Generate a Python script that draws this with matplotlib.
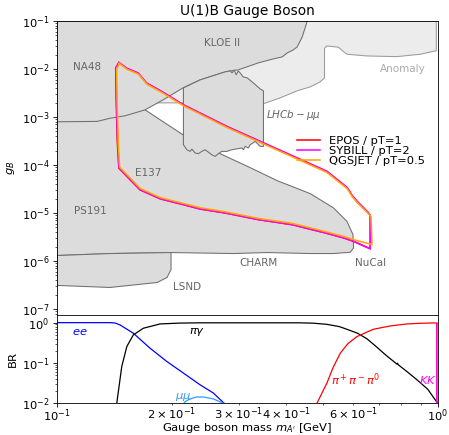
import matplotlib
matplotlib.use('Agg')
import matplotlib.pyplot as plt

plt.rcParams['font.size'] = 11

# ---- excluded regions: mass [GeV], coupling g_B ----
anomaly_m = [0.1, 0.1, 0.2141, 0.3474, 0.3855, 0.4269, 0.4622, 0.4907, 0.5036, 0.5036,
             0.5110, 0.5482, 0.5649, 0.5768, 0.6509, 0.7804, 0.8985, 0.9838, 0.9897, 0.9897]
anomaly_g = [0.1, 1.97e-3, 1.97e-3, 1.88e-3, 2.51e-3, 3.51e-3, 4.25e-3, 5.40e-3, 6.53e-3, 0.027,
             0.0302, 0.0284, 0.0230, 0.0203, 0.0187, 0.0181, 0.0203, 0.0238, 0.0238, 0.1]

e137_m = [0.1, 0.1555, 0.1703, 0.1900, 0.2141, 0.2374, 0.2681, 0.3214, 0.3784, 0.4622,
          0.5316, 0.5768, 0.5981, 0.6004, 0.5883, 0.5316, 0.4622, 0.3561, 0.2899, 0.1992,
          0.1377, 0.1]
e137_g = [1.79e-3, 1.55e-3, 1.41e-3, 7.94e-4, 4.26e-4, 2.77e-4, 1.72e-4, 8.8e-5, 4.72e-5, 2.53e-5,
          1.28e-5, 6.71e-6, 3.56e-6, 1.88e-6, 1.52e-6, 1.43e-6, 1.43e-6, 1.50e-6, 1.43e-6, 1.50e-6,
          1.43e-6, 1.30e-6]

lsnd_m = [0.1, 0.1377, 0.1992, 0.1992, 0.1945, 0.1832, 0.1377, 0.1]
lsnd_g = [1.30e-6, 1.43e-6, 1.50e-6, 6.65e-7, 4.54e-7, 3.57e-7, 2.81e-7, 3.10e-7]

kloe_m = [0.1, 0.4538, 0.4401, 0.4269, 0.4168, 0.4020, 0.3902, 0.3692, 0.3375, 0.2988,
          0.2847, 0.2763, 0.2374, 0.2141, 0.1900, 0.1703, 0.1509, 0.1377, 0.1274, 0.1]
kloe_g = [0.1, 0.1, 0.0465, 0.0288, 0.0250, 0.0216, 0.0179, 0.0162, 0.0134, 9.57e-3,
          9.12e-3, 8.71e-3, 5.93e-3, 4.04e-3, 2.28e-3, 1.41e-3, 1.06e-3, 9.4e-4, 8.1e-4, 7.94e-4]

lhcb_m = [0.2147, 0.2374, 0.2763, 0.2847, 0.2882, 0.2917, 0.2953, 0.2988, 0.3025, 0.3081,
          0.3158, 0.3274, 0.3413, 0.3482, 0.3482, 0.3413, 0.3346, 0.3312, 0.3266, 0.3213,
          0.3180, 0.3117, 0.3086, 0.3056, 0.2877, 0.2791, 0.2707, 0.2652, 0.2600, 0.2548,
          0.2447, 0.2399, 0.2350, 0.2304, 0.2259, 0.2236, 0.2192, 0.2147]
lhcb_g = [4.04e-3, 5.93e-3, 8.71e-3, 9.12e-3, 8.30e-3, 9.57e-3, 7.54e-3, 9.12e-3, 8.30e-3, 6.85e-3,
          6.53e-3, 5.14e-3, 3.85e-3, 3.51e-3, 2.44e-4, 2.44e-4, 2.86e-4, 3.10e-4, 2.86e-4, 2.64e-4,
          2.26e-4, 2.44e-4, 2.08e-4, 2.26e-4, 2.08e-4, 1.92e-4, 1.92e-4, 1.72e-4, 1.51e-4, 1.64e-4,
          2.08e-4, 1.92e-4, 1.72e-4, 1.78e-4, 2.15e-4, 1.92e-4, 2.08e-4, 2.64e-4]

# ---- sensitivity contours ----
epos_m = [0.1453, 0.1522, 0.1633, 0.1718, 0.1882, 0.2145, 0.2372, 0.2789, 0.3412, 0.4173,
          0.5108, 0.5776, 0.5953, 0.6136, 0.6363, 0.6558, 0.6638, 0.6638, 0.6000, 0.5648,
          0.5056, 0.4133, 0.3377, 0.2761, 0.2372, 0.2145, 0.1863, 0.1650, 0.1453, 0.1439,
          0.1430, 0.1426, 0.1453]
epos_g = [1.36e-2, 1.04e-2, 8.20e-3, 5.08e-3, 3.40e-3, 1.80e-3, 1.21e-3, 6.37e-4, 3.11e-4, 1.52e-4,
          7.40e-5, 3.39e-5, 2.31e-5, 1.74e-5, 1.30e-5, 1.02e-5, 8.85e-6, 1.80e-6, 2.57e-6, 3.03e-6,
          3.85e-6, 5.72e-6, 7.27e-6, 1.00e-5, 1.21e-5, 1.49e-5, 1.98e-5, 3.05e-5, 8.60e-5, 3.36e-4,
          2.28e-3, 1.054e-2, 1.36e-2]

sybill_m = [0.1455, 0.1524, 0.1635, 0.1720, 0.1884, 0.2147, 0.2374, 0.2791, 0.3414, 0.4175,
            0.5110, 0.5778, 0.5955, 0.6138, 0.6365, 0.6560, 0.6640, 0.6640, 0.6002, 0.5650,
            0.5058, 0.4135, 0.3379, 0.2763, 0.2374, 0.2147, 0.1865, 0.1652, 0.1455, 0.1442,
            0.1433, 0.1429, 0.1455]
sybill_g = [1.358e-2, 1.039e-2, 8.18e-3, 5.07e-3, 3.39e-3, 1.79e-3, 1.205e-3, 6.35e-4, 3.10e-4, 1.51e-4,
            7.36e-5, 3.37e-5, 2.30e-5, 1.73e-5, 1.30e-5, 1.02e-5, 8.83e-6, 1.79e-6, 2.58e-6, 3.04e-6,
            3.86e-6, 5.74e-6, 7.29e-6, 1.005e-5, 1.22e-5, 1.50e-5, 1.99e-5, 3.07e-5, 8.66e-5, 3.36e-4,
            2.28e-3, 1.054e-2, 1.358e-2]

qgsjet_m = [0.1458, 0.1527, 0.1637, 0.1722, 0.1886, 0.2149, 0.2376, 0.2793, 0.3416, 0.4177,
            0.5112, 0.5780, 0.5960, 0.6145, 0.6375, 0.6575, 0.6670, 0.6710, 0.6010, 0.5655,
            0.5060, 0.4135, 0.3379, 0.2763, 0.2374, 0.2147, 0.1865, 0.1655, 0.1460, 0.1447,
            0.1438, 0.1434, 0.1458]
qgsjet_g = [1.30e-2, 0.99e-2, 7.80e-3, 4.83e-3, 3.23e-3, 1.71e-3, 1.15e-3, 6.05e-4, 2.95e-4, 1.44e-4,
            7.0e-5, 3.2e-5, 2.17e-5, 1.63e-5, 1.22e-5, 9.6e-6, 8.4e-6, 2.2e-6, 2.78e-6, 3.25e-6,
            4.1e-6, 6.1e-6, 7.7e-6, 1.06e-5, 1.29e-5, 1.58e-5, 2.10e-5, 3.23e-5, 9.0e-5, 3.4e-4,
            2.25e-3, 1.01e-2, 1.30e-2]

# ---- branching ratios ----
ee_m = [0.1, 0.1377, 0.1420, 0.1464, 0.1586, 0.1754, 0.1942, 0.2147, 0.2374, 0.2573, 0.2734, 0.2800]
ee_br = [1.0, 1.0, 0.98, 0.877, 0.546, 0.232, 0.108, 0.0555, 0.0284, 0.0177, 0.0102, 0.0085]

mumu_m = [0.2114, 0.2125, 0.2160, 0.2213, 0.2318, 0.2423, 0.2573, 0.2724, 0.2780]
mumu_br = [0.002, 0.0065, 0.0105, 0.0121, 0.0141, 0.0141, 0.0126, 0.0100, 0.0092]

pig_m = [0.1435, 0.1479, 0.1525, 0.1586, 0.1685, 0.1865, 0.2100, 0.2374, 0.4348, 0.4700,
         0.5100, 0.5500, 0.5800, 0.6150, 0.6500, 0.6800, 0.7300, 0.7800, 0.7830, 0.7860,
         0.8300, 0.8800, 0.9400, 0.9938]
pig_br = [0.0098, 0.0809, 0.254, 0.495, 0.726, 0.929, 0.975, 0.99, 0.99, 0.97,
          0.91, 0.80, 0.67, 0.545, 0.40, 0.28, 0.155, 0.093, 0.098, 0.090,
          0.060, 0.038, 0.022, 0.0104]

pipipi_m = [0.481, 0.495, 0.511, 0.530, 0.554, 0.580, 0.6126, 0.6773, 0.7497, 0.829,
            0.900, 0.974, 0.9925, 0.9935]
pipipi_br = [0.0098, 0.017, 0.0313, 0.075, 0.174, 0.30, 0.45, 0.686, 0.828, 0.929,
             0.965, 0.985, 0.975, 0.01]

kk_m = [0.9930, 0.9935, 0.9940, 1.0]
kk_br = [0.005, 0.3, 0.97, 0.97]

W, H, DPI = 449, 435, 75
fig = plt.figure(figsize=(W / DPI, H / DPI), dpi=DPI)
ax1 = fig.add_axes([57 / W, 1 - 315 / H, 381 / W, 294 / H])
ax2 = fig.add_axes([57 / W, 1 - 403 / H, 381 / W, 88 / H], sharex=ax1)

dark = '#dcdcdc'
edge = '#6e6e6e'
ax1.fill(anomaly_m, anomaly_g, facecolor='#ececec', edgecolor='#9a9a9a', lw=1.0)
ax1.fill(e137_m, e137_g, facecolor=dark, edgecolor=edge, lw=1.0)
ax1.fill(lsnd_m, lsnd_g, facecolor=dark, edgecolor=edge, lw=1.0)
ax1.fill(kloe_m, kloe_g, facecolor=dark, edgecolor=edge, lw=1.0)
ax1.fill(lhcb_m, lhcb_g, facecolor=dark, edgecolor=edge, lw=1.0)

ax1.plot(epos_m, epos_g, color='red', lw=1.5, label='EPOS / pT=1')
ax1.plot(sybill_m, sybill_g, color='magenta', lw=1.5, label='SYBILL / pT=2')
ax1.plot(qgsjet_m, qgsjet_g, color='orange', lw=1.5, label='QGSJET / pT=0.5')

lab = dict(fontsize=10, color='#666666', ha='center', va='center')
ax1.text(0.2713, 0.0349, 'KLOE II', **lab)
ax1.text(0.1199, 0.01107, 'NA48', **lab)
ax1.text(0.4168, 1.11e-3, r'$LHCb-\mu\mu$', **lab)
ax1.text(0.1734, 6.92e-5, 'E137', **lab)
ax1.text(0.1221, 1.12e-5, 'PS191', **lab)
ax1.text(0.3373, 9.3e-7, 'CHARM', **lab)
ax1.text(0.6640, 9.3e-7, 'NuCal', **lab)
ax1.text(0.2196, 2.81e-7, 'LSND', **lab)
ax1.text(0.8106, 0.01005, 'Anomaly', fontsize=10, color='#aaaaaa', ha='center', va='center')

ax1.set_xscale('log')
ax1.set_yscale('log')
ax1.set_xlim(0.1, 1.0)
ax1.set_ylim(7.5e-8, 0.1)
ax1.set_ylabel(r'$g_B$')
ax1.set_title('U(1)B Gauge Boson')
ax1.tick_params(axis='x', which='both', bottom=False, labelbottom=False)
ax1.legend(loc='center left', bbox_to_anchor=(0.603, 0.558), frameon=False, labelspacing=0.0)

ax2.plot(ee_m, ee_br, color='blue', lw=1.2)
ax2.plot(mumu_m, mumu_br, color='#3399ff', lw=1.2)
ax2.plot(pig_m, pig_br, color='black', lw=1.2)
ax2.plot(pipipi_m, pipipi_br, color='red', lw=1.2)
ax2.plot(kk_m, kk_br, color='magenta', lw=1.2)
ax2.text(0.1149, 0.598, r'$ee$', color='blue', ha='center', va='center')
ax2.text(0.2332, 0.6, r'$\pi\gamma$', color='black', ha='center', va='center')
ax2.text(0.2143, 0.0143, r'$\mu\mu$', color='#3399ff', ha='center', va='center')
ax2.text(0.6064, 0.0379, r'$\pi^+\pi^-\pi^0$', color='red', ha='center', va='center')
ax2.text(0.943, 0.0379, r'$KK$', color='magenta', ha='center', va='center')
ax2.set_yscale('log')
ax2.set_ylim(1e-2, 1.55)
ax2.set_xlim(0.1, 1.0)
ax2.set_ylabel('BR')
ax2.tick_params(axis='x', which='both', pad=0.5)
ax2.set_xlabel(r"Gauge boson mass $m_{A'}$ [GeV]", labelpad=-3)

fig.savefig('out.png', dpi=DPI)
